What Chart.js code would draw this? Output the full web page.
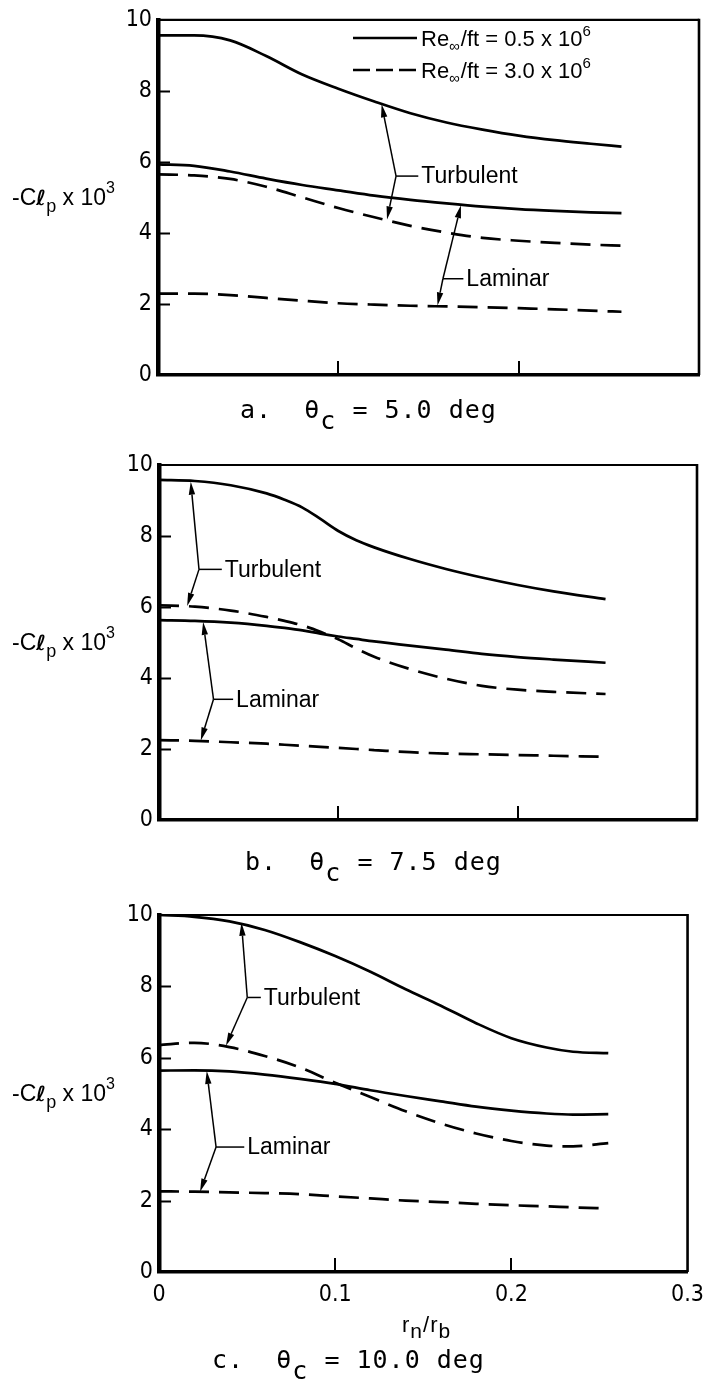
<!DOCTYPE html>
<html><head><meta charset="utf-8"><title>Roll damping vs nose bluntness</title>
<script src="https://cdn.jsdelivr.net/npm/chart.js@4.4.1/dist/chart.umd.min.js"></script>
<style>
html,body{margin:0;padding:0;background:#fff}
#wrap{position:relative;width:713px;height:1385px;overflow:hidden;background:#fff}
canvas{position:absolute;left:0}
.t{position:absolute;color:#000;white-space:nowrap;line-height:1}
.t sub,.t sup{line-height:0}
.yt{font-family:'Liberation Sans',Arial,sans-serif;font-size:23px}
.yt .l{font-family:'DejaVu Sans',sans-serif;font-weight:bold;font-size:21px}
.yt sub{font-size:18px;vertical-align:-7px}
.yt sup{font-size:16px;vertical-align:12px}
.cap{font-family:'DejaVu Sans Mono',monospace;font-size:25px;letter-spacing:1px}
.cap sub{font-size:25px;vertical-align:-11px}
.xt{font-family:'Liberation Sans',Arial,sans-serif;font-size:22px;letter-spacing:1px}
.xt sub{font-size:21px;vertical-align:-6px}
</style></head>
<body><div id="wrap"></div>
<script>
// ---------------- data ----------------
// x = r_n / r_b ; y = -C_lp x 10^3
// "Solid" = Re/ft 0.5e6, "Dash" = Re/ft 3.0e6
const rnrbA = [0, 0.02, 0.04, 0.06, 0.08, 0.10, 0.12, 0.14, 0.16, 0.18, 0.20, 0.22, 0.24, 0.257];
const aSolidTurb = [9.56, 9.56, 9.42, 8.98, 8.46, 8.06, 7.70, 7.37, 7.11, 6.91, 6.74, 6.61, 6.51, 6.43];
const aSolidLam  = [5.93, 5.89, 5.73, 5.53, 5.35, 5.20, 5.05, 4.93, 4.83, 4.74, 4.67, 4.62, 4.58, 4.56];
const aDashTurb  = [5.65, 5.62, 5.52, 5.30, 5.00, 4.70, 4.44, 4.20, 4.01, 3.86, 3.78, 3.72, 3.67, 3.64];
const aDashLam   = [2.29, 2.29, 2.25, 2.17, 2.09, 2.02, 1.98, 1.95, 1.93, 1.91, 1.88, 1.85, 1.81, 1.78];

const rnrbB = [0, 0.02, 0.04, 0.06, 0.07, 0.08, 0.09, 0.10, 0.11, 0.12, 0.14, 0.16, 0.18, 0.20, 0.22, 0.249];
const bSolidTurb = [9.58, 9.55, 9.43, 9.20, 9.02, 8.80, 8.48, 8.14, 7.88, 7.68, 7.35, 7.07, 6.83, 6.62, 6.44, 6.22];
const bSolidLam  = [5.63, 5.61, 5.56, 5.47, 5.41, 5.34, 5.25, 5.17, 5.10, 5.03, 4.91, 4.80, 4.68, 4.59, 4.52, 4.43];
const bDashTurb  = [6.05, 6.01, 5.90, 5.72, 5.61, 5.48, 5.30, 5.09, 4.83, 4.60, 4.25, 3.98, 3.78, 3.67, 3.61, 3.55];
const bDashLam   = [2.25, 2.23, 2.19, 2.15, 2.12, 2.09, 2.06, 2.03, 2.00, 1.97, 1.91, 1.87, 1.85, 1.83, 1.81, 1.78];

const rnrbC = [0, 0.02, 0.04, 0.06, 0.08, 0.10, 0.12, 0.14, 0.16, 0.18, 0.20, 0.22, 0.235, 0.255];
const cSolidTurb = [10.0, 9.95, 9.82, 9.58, 9.24, 8.85, 8.41, 7.92, 7.46, 6.97, 6.55, 6.29, 6.17, 6.13];
const cSolidLam  = [5.64, 5.65, 5.62, 5.53, 5.41, 5.27, 5.09, 4.93, 4.78, 4.63, 4.52, 4.44, 4.41, 4.42];
const cDashTurb  = [6.36, 6.42, 6.30, 6.05, 5.73, 5.30, 4.90, 4.50, 4.16, 3.88, 3.67, 3.54, 3.52, 3.61];
const cDashLam   = [2.26, 2.25, 2.23, 2.21, 2.18, 2.12, 2.06, 2.00, 1.96, 1.91, 1.87, 1.84, 1.81, 1.78];

const yTicks = {min: 0, max: 10, step: 2};
const xTicks = {min: 0, max: 0.3, step: 0.1};
const legendLabels = [['Re', '\u221E', '/ft = 0.5 x 10', '6'], ['Re', '\u221E', '/ft = 3.0 x 10', '6']];
const captions = [['a.', '5.0'], ['b.', '7.5'], ['c.', '10.0']];

// annotation leaders (data coordinates)
const notesA = [
  {label: 'Turbulent', knee: [0.132, 5.60], textX: 0.146, tips: [[0.124, 7.62], [0.127, 4.38]]},
  {label: 'Laminar',   knee: [0.158, 2.71], textX: 0.171, tips: [[0.168, 4.78], [0.155, 1.96]]}
];
const notesB = [
  {label: 'Turbulent', knee: [0.0223, 7.06], textX: 0.0367, tips: [[0.0177, 9.53], [0.0157, 6.03]]},
  {label: 'Laminar',   knee: [0.0304, 3.40], textX: 0.043,  tips: [[0.0246, 5.58], [0.0233, 2.24]]}
];
const notesC = [
  {label: 'Turbulent', knee: [0.0501, 7.69], textX: 0.0595, tips: [[0.0468, 9.78], [0.038, 6.34]]},
  {label: 'Laminar',   knee: [0.0324, 3.50], textX: 0.0501, tips: [[0.0271, 5.63], [0.0233, 2.25]]}
];

// ---------------- layout ----------------
const W = 713;
const TICKFONT = "'Liberation Sans Narrow','DejaVu Sans Condensed','Liberation Sans',Arial,sans-serif";
const TXTFONT = "'Liberation Sans',Arial,sans-serif";
const panels = [
  {top: 0,   h: 440, area: {left: 158, right: 699, top: 19, bottom: 375}, x: rnrbA,
   s: [aSolidTurb, aSolidLam, aDashTurb, aDashLam], notes: notesA, legend: true, xlab: false,
   cap: {left: 240, base: 418}},
  {top: 440, h: 450, area: {left: 159, right: 697, top: 25, bottom: 380}, x: rnrbB,
   s: [bSolidTurb, bSolidLam, bDashTurb, bDashLam], notes: notesB, legend: false, xlab: false,
   cap: {left: 245, base: 870}},
  {top: 890, h: 495, area: {left: 159, right: 695, top: 25, bottom: 382}, x: rnrbC,
   s: [cSolidTurb, cSolidLam, cDashTurb, cDashLam], notes: notesC, legend: false, xlab: true,
   cap: {left: 212, base: 1368}}
];

// ---------------- plugins ----------------
const framePlugin = {
  id: 'frame',
  afterDraw(chart) {
    const {ctx, chartArea: a, scales: {x, y}} = chart;
    ctx.save();
    ctx.strokeStyle = '#000';
    ctx.lineWidth = 2.2;
    ctx.beginPath(); ctx.moveTo(a.left, a.top); ctx.lineTo(a.right, a.top); ctx.stroke();
    ctx.lineWidth = 2.6;
    ctx.beginPath(); ctx.moveTo(a.right, a.top - 1); ctx.lineTo(a.right, a.bottom); ctx.stroke();
    ctx.lineWidth = 2;
    y.ticks.forEach(t => {
      if (t.value > y.min && t.value < y.max) {
        const py = Math.round(y.getPixelForValue(t.value)) + 0.5;
        ctx.beginPath(); ctx.moveTo(a.left, py); ctx.lineTo(a.left + 12, py); ctx.stroke();
      }
    });
    x.ticks.forEach(t => {
      if (t.value > x.min && t.value < x.max) {
        const px = Math.round(x.getPixelForValue(t.value));
        ctx.beginPath(); ctx.moveTo(px, a.bottom); ctx.lineTo(px, a.bottom - 14); ctx.stroke();
      }
    });
    ctx.restore();
  }
};

function drawRich(ctx, parts, x, y, size) {
  // parts: [normal, sub, normal, sup]
  let cx = x;
  parts.forEach((p, i) => {
    const isSub = i === 1, isSup = i === 3;
    const fs = (isSub || isSup) ? Math.round(size * 0.7) : size;
    ctx.font = fs + 'px ' + TXTFONT;
    const dy = isSub ? 5 : (isSup ? -10 : 0);
    ctx.fillText(p, cx, y + dy);
    cx += ctx.measureText(p).width + (isSub ? 1 : 0);
  });
}

const legendPlugin = {
  id: 'relegend',
  afterDraw(chart, args, opts) {
    if (!opts.show) return;
    const {ctx, chartArea: a} = chart;
    ctx.save();
    ctx.strokeStyle = '#000'; ctx.fillStyle = '#000';
    ctx.textBaseline = 'alphabetic'; ctx.textAlign = 'left';
    const x0 = a.left + 195, x1 = a.left + 259, tx = a.left + 263;
    const rows = [{y: 38, dash: []}, {y: 70, dash: [17, 6]}];
    rows.forEach((r, i) => {
      ctx.lineWidth = 2.6;
      ctx.setLineDash(r.dash);
      ctx.beginPath(); ctx.moveTo(x0, r.y); ctx.lineTo(x1, r.y); ctx.stroke();
      ctx.setLineDash([]);
      drawRich(ctx, legendLabels[i], tx, r.y + 8, 22);
    });
    ctx.restore();
  }
};

const notesPlugin = {
  id: 'notes',
  afterDatasetsDraw(chart, args, opts) {
    const {ctx, scales: {x, y}} = chart;
    const P = p => [x.getPixelForValue(p[0]), y.getPixelForValue(p[1])];
    ctx.save();
    ctx.strokeStyle = '#000'; ctx.fillStyle = '#000';
    ctx.lineWidth = 1.5;
    (opts.items || []).forEach(it => {
      const k = P(it.knee);
      it.tips.forEach(tp => {
        const p = P(tp);
        const ang = Math.atan2(p[1] - k[1], p[0] - k[0]);
        const L = 13, hw = 3.2;
        const bx = p[0] - L * Math.cos(ang), by = p[1] - L * Math.sin(ang);
        ctx.beginPath(); ctx.moveTo(k[0], k[1]); ctx.lineTo(bx, by); ctx.stroke();
        ctx.beginPath();
        ctx.moveTo(p[0], p[1]);
        ctx.lineTo(bx + hw * Math.sin(ang), by - hw * Math.cos(ang));
        ctx.lineTo(bx - hw * Math.sin(ang), by + hw * Math.cos(ang));
        ctx.closePath(); ctx.fill();
      });
      const tx = x.getPixelForValue(it.textX);
      ctx.beginPath(); ctx.moveTo(k[0], k[1]); ctx.lineTo(tx - 3, k[1]); ctx.stroke();
      ctx.font = '23px ' + TXTFONT;
      ctx.textBaseline = 'middle'; ctx.textAlign = 'left';
      ctx.fillText(it.label, tx, k[1] + 1);
    });
    ctx.restore();
  }
};

// ---------------- build ----------------
const wrap = document.getElementById('wrap');
panels.forEach((pn, idx) => {
  const cv = document.createElement('canvas');
  cv.width = W; cv.height = pn.h;
  cv.style.top = pn.top + 'px';
  cv.style.width = W + 'px'; cv.style.height = pn.h + 'px';
  wrap.appendChild(cv);
  const mk = (arr, dashed) => ({
    data: pn.x.map((v, i) => ({x: v, y: arr[i]})),
    borderColor: '#000', borderWidth: 2.7,
    borderDash: dashed ? [20, 10] : [],
    pointRadius: 0, fill: false,
    cubicInterpolationMode: 'monotone',
    clip: 8
  });
  new Chart(cv, {
    type: 'line',
    data: {datasets: [mk(pn.s[0], false), mk(pn.s[1], false), mk(pn.s[2], true), mk(pn.s[3], true)]},
    options: {
      responsive: false, animation: false, devicePixelRatio: 1,
      layout: {padding: {top: pn.area.top, right: W - pn.area.right, left: 0, bottom: 0}},
      plugins: {
        legend: {display: false}, tooltip: {enabled: false},
        notes: {items: pn.notes}, relegend: {show: pn.legend}
      },
      scales: {
        x: {
          type: 'linear', min: xTicks.min, max: xTicks.max,
          ticks: {stepSize: xTicks.step, display: pn.xlab, color: '#000', padding: 9, maxRotation: 0, autoSkip: false,
                  font: {family: TICKFONT, size: 23}},
          grid: {display: false, drawTicks: false},
          border: {display: true, color: '#000', width: 3.5},
          afterFit(s) { s.height = pn.h - pn.area.bottom; }
        },
        y: {
          min: yTicks.min, max: yTicks.max,
          ticks: {stepSize: yTicks.step, color: '#000', padding: 6, font: {family: TICKFONT, size: 23}},
          grid: {display: false, drawTicks: false},
          border: {display: true, color: '#000', width: 4.5},
          afterFit(s) { s.width = pn.area.left; }
        }
      }
    },
    plugins: [framePlugin, notesPlugin, legendPlugin]
  });

  // y-axis title (horizontal)
  const mid = pn.top + (pn.area.top + pn.area.bottom) / 2;
  const yt = document.createElement('div');
  yt.className = 't yt';
  yt.innerHTML = '-C<span class="l">\u2113</span><sub>p</sub> x 10<sup>3</sup>';
  yt.style.left = '12px';
  yt.style.top = (mid + 8 - 19.5) + 'px';
  wrap.appendChild(yt);

  // caption
  const cp = document.createElement('div');
  cp.className = 't cap';
  cp.innerHTML = captions[idx][0] + '&nbsp;&nbsp;\u03B8<sub>c</sub> = ' + captions[idx][1] + ' deg';
  cp.style.left = pn.cap.left + 'px';
  cp.style.top = (pn.cap.base - 21) + 'px';
  wrap.appendChild(cp);

  if (pn.xlab) {
    const xt = document.createElement('div');
    xt.className = 't xt';
    xt.innerHTML = 'r<sub>n</sub>/r<sub>b</sub>';
    xt.style.left = '402px';
    xt.style.top = (1333 - 18.6) + 'px';
    wrap.appendChild(xt);
  }
});
</script></body></html>
